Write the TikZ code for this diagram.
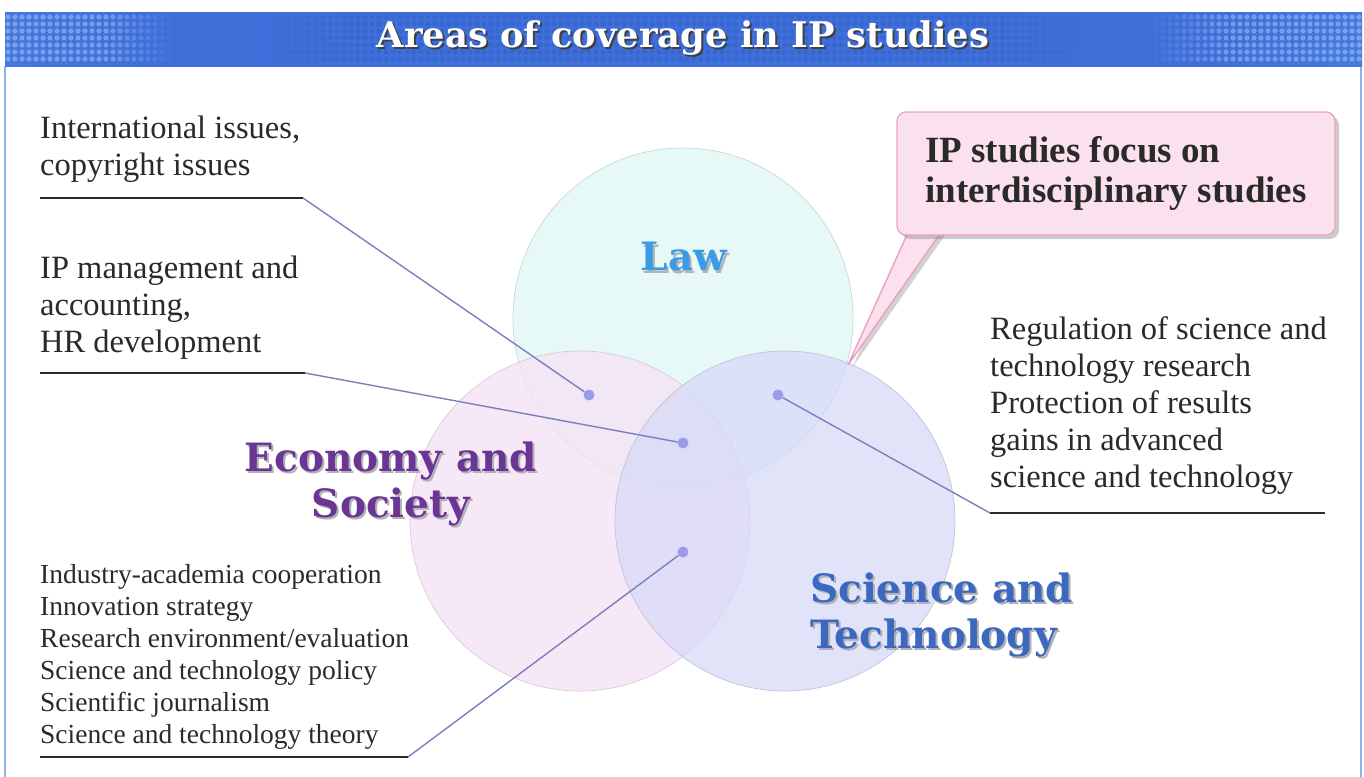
\documentclass[tikz,border=0pt]{standalone}
\usepackage{fontspec}
\setmainfont{Liberation Serif}
\newfontfamily\heavy{DejaVu Serif}
\usetikzlibrary{shadows}
\definecolor{txt}{HTML}{2A2A2A}
\definecolor{framec}{HTML}{8FB2EA}
\definecolor{barL}{HTML}{5E9CEE}
\definecolor{barLM}{HTML}{4A86E6}
\definecolor{barM}{HTML}{3F70DA}
\definecolor{barRM}{HTML}{4A8AE8}
\definecolor{barR}{HTML}{5CA6F2}
\definecolor{bardot}{HTML}{2B52BE}
\definecolor{lawc}{HTML}{E0F8F5}
\definecolor{ecoc}{HTML}{F5E1F5}
\definecolor{scic}{HTML}{D7DAF7}
\definecolor{lawt}{HTML}{3A9BE6}
\definecolor{ecot}{HTML}{6A3595}
\definecolor{scit}{HTML}{3D68C0}
\definecolor{dotc}{HTML}{9A9CEA}
\definecolor{leadc}{HTML}{7C7FBE}
\definecolor{pinkf}{HTML}{FBE1EE}
\definecolor{pinkd}{HTML}{EBA0C0}
\pgfdeclarehorizontalshading{titlebar}{100bp}{color(0bp)=(barL); color(9bp)=(barL); color(18bp)=(barLM); color(30bp)=(barM); color(70bp)=(barM); color(82bp)=(barRM); color(90bp)=(barR); color(100bp)=(barR)}
\newcommand{\shad}[2]{\rlap{\kern2pt\raisebox{-2.5pt}{\textcolor{black!30}{#2}}}\textcolor{#1}{#2}}
\tikzset{
  venn/.style={circle, minimum size=340pt, inner sep=0pt, fill opacity=0.75, line width=0.7pt},
  vdot/.style={circle, fill=dotc, minimum size=11pt, inner sep=0pt},
  body/.style={anchor=north west, inner sep=0pt, align=left, text=txt, font=\fontsize{32.5}{37}\selectfont},
  small/.style={anchor=north west, inner sep=0pt, align=left, text=txt, font=\fontsize{27.5}{32}\selectfont},
  areal/.style={inner sep=0pt, font=\heavy\bfseries\fontsize{39}{46}\selectfont},
  uline/.style={draw=txt, line width=1.3pt},
  leader/.style={draw=leadc, line width=1.4pt},
  callbox/.style={rounded corners=9pt, fill=pinkf, draw=pinkd, line width=1.2pt, minimum width=438pt, minimum height=123pt, align=left, inner sep=0pt, font=\bfseries\fontsize{37}{40}\selectfont, text=txt}
}
\begin{document}
\begin{tikzpicture}[x=1pt,y=-1pt]
\useasboundingbox (0,0) rectangle (1364,776);
\fill[white] (0,0) rectangle (1364,776);
% frame
\draw[framec, line width=2pt] (5,66) -- (5,778);
\draw[framec, line width=2pt] (1361,66) -- (1361,778);
% title bar
\shade[shading=titlebar] (5,13) rectangle (1362,66);
\foreach \i in {0,...,193} {
  \pgfmathsetmacro{\xx}{8+7*\i}
  \pgfmathsetmacro{\wop}{0.3*max(0,min(1,(175-\xx)/70))+0.3*max(0,min(1,(\xx-1150)/80))}
  \pgfmathsetmacro{\dop}{0.3*max(0,min(1,(\xx-230)/130))*max(0,min(1,(1120-\xx)/130))}
  \foreach \j in {0,...,6} {
    \fill[white, opacity=\wop] (\xx,17+7*\j) circle (2.6pt);
    \fill[bardot, opacity=\dop] (\xx,17+7*\j) circle (2.6pt);
  }
}
\node[inner sep=0pt, font=\heavy\bfseries\fontsize{35.3}{38}\selectfont] (title) at (683,39) {\rlap{\kern2pt\raisebox{-2.5pt}{\textcolor{black!75}{Areas of coverage in IP studies}}}\textcolor{white}{Areas of coverage in IP studies}};
% circles
\node[venn, fill=lawc, draw=lawc!88!black] (law) at (683,318) {};
\node[venn, fill=ecoc, draw=ecoc!90!black] (eco) at (580,521) {};
\node[venn, fill=scic, draw=scic!90!black] (sci) at (785,521) {};
% area labels
\node[areal] (lawL) at (684,258) {\shad{lawt}{Law}};
\node[areal, align=center] (ecoL) at (391,485) {\shad{ecot}{Economy and}\\\shad{ecot}{Society}};
\node[areal, align=left, anchor=west] (sciL) at (810,616) {\shad{scit}{Science and}\\\shad{scit}{Technology}};
% dots
\node[vdot] (d1) at (589,395) {};
\node[vdot] (d2) at (683,443) {};
\node[vdot] (d3) at (778,395) {};
\node[vdot] (d4) at (683,552) {};
% text blocks
\node[body] (t1) at (40,116) {International issues,\\copyright issues};
\node[body] (t2) at (40,256) {IP management and\\accounting,\\HR development};
\node[small] (t3) at (40,564) {Industry-academia cooperation\\Innovation strategy\\Research environment/evaluation\\Science and technology policy\\Scientific journalism\\Science and technology theory};
\node[body] (t4) at (990,316) {Regulation of science and\\technology research\\Protection of results\\gains in advanced\\science and technology};
% underlines and leaders
\coordinate (u1s) at (40,198); \coordinate (u1e) at (303,198);
\coordinate (u2s) at (40,373); \coordinate (u2e) at (305,373);
\coordinate (u3s) at (40,757); \coordinate (u3e) at (408,757);
\coordinate (u4s) at (1325,513); \coordinate (u4e) at (990,513);
\draw[uline] (u1s) -- (u1e);
\draw[uline] (u2s) -- (u2e);
\draw[uline] (u3s) -- (u3e);
\draw[uline] (u4s) -- (u4e);
\draw[leader] (u1e) -- (d1);
\draw[leader] (u2e) -- (d2);
\draw[leader] (u3e) -- (d4);
\draw[leader] (u4e) -- (d3);
% callout
\coordinate (tip) at (848,365);
\coordinate (pa) at (910,228);
\coordinate (pb) at (944,228);
\fill[pinkf, draw=pinkd, line width=1.4pt, drop shadow={shadow xshift=4pt, shadow yshift=-3pt, opacity=0.35}] (pa) -- (pb) -- (tip) -- cycle;
\node[callbox, drop shadow={shadow xshift=4pt, shadow yshift=-4pt, opacity=0.4}] (call) at (1116,173.5) {IP studies focus on\\interdisciplinary studies};
\end{tikzpicture}
\end{document}
